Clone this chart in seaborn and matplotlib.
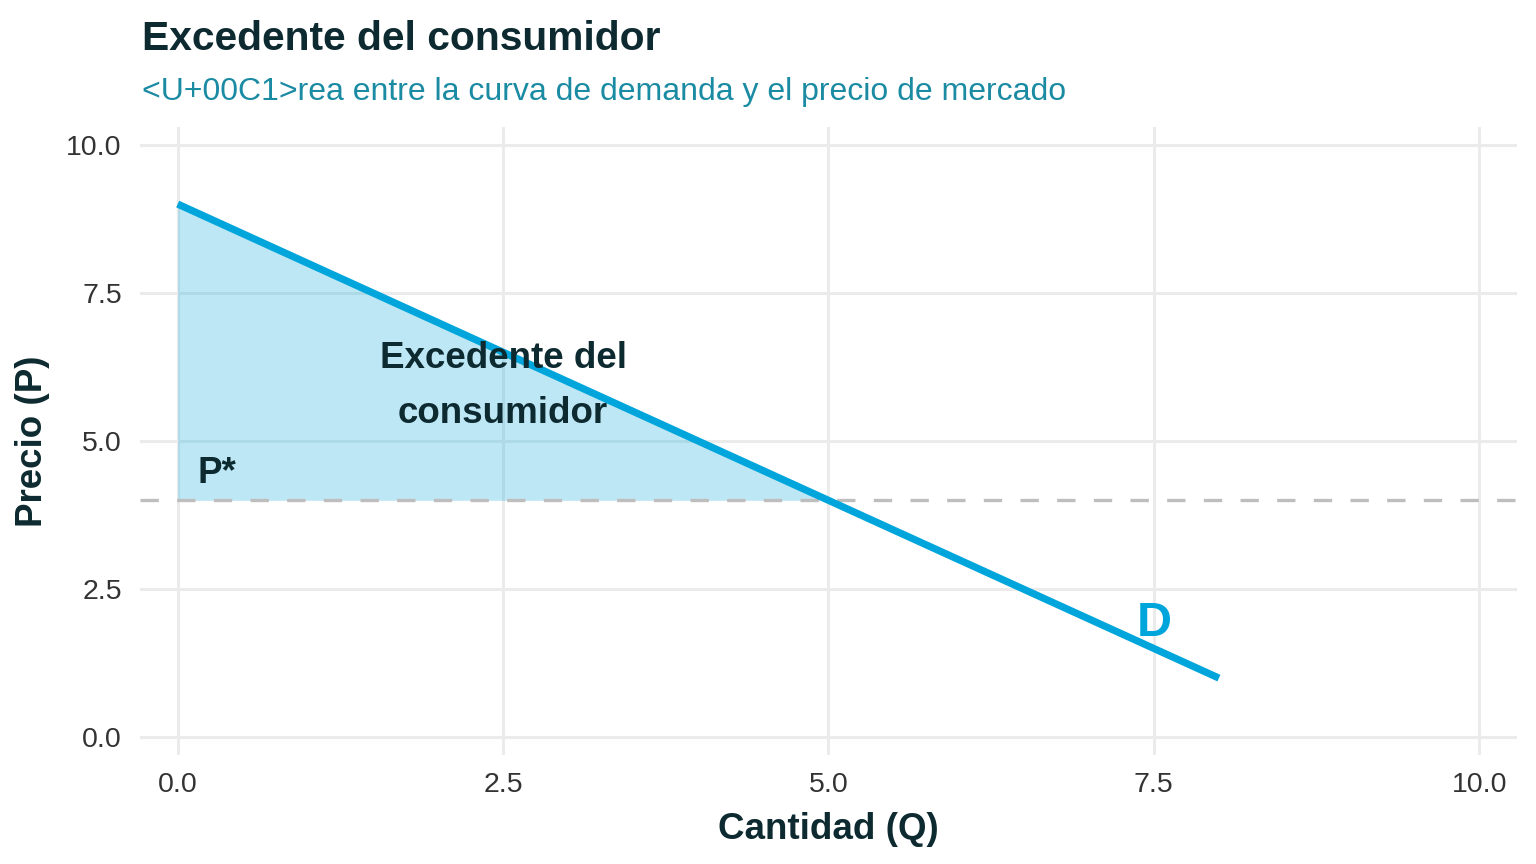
import pandas as pd
import seaborn as sns
import matplotlib.pyplot as plt

# Demand curve P = 9 - Q, drawn from Q=0 to Q=8
cantidad = [0, 8]
precio = [9, 1]
# market equilibrium
p_star = 4
q_star = 5
# surplus area: demand from Q=0 to Q*
q_area = [0, 5]
p_area = [9, 4]

ticks = [0.0, 2.5, 5.0, 7.5, 10.0]
tick_labels = ['0.0', '2.5', '5.0', '7.5', '10.0']

azul = '#00A6DB'
oscuro = '#0D2A30'
teal = '#1A8BA3'

sns.set_theme(style='whitegrid')
plt.rcParams['font.family'] = ['Liberation Sans', 'DejaVu Sans']

df = pd.DataFrame({'Q': cantidad, 'P': precio})

fig = plt.figure(figsize=(15.36, 8.64), dpi=100)
ax = fig.add_axes([0.0911, 0.126, 0.8965, 0.727])

# Shaded consumer surplus
ax.fill_between(q_area, p_area, p_star, color=azul, alpha=0.26, linewidth=0, zorder=2)
# market price line
ax.axhline(p_star, color='#BEBEBE', lw=2.4, dashes=(5.5, 5.5), zorder=3)
sns.lineplot(data=df, x='Q', y='P', color=azul, lw=5.2, ax=ax, zorder=4,
             solid_capstyle='butt')

ax.text(2.5, 5.93, 'Excedente del\nconsumidor', ha='center', va='center',
        fontsize=26.5, fontweight='bold', color=oscuro, linespacing=1.75, zorder=5)
ax.text(0.15, 4.45, 'P*', ha='left', va='center', fontsize=26.5,
        fontweight='bold', color=oscuro, zorder=5)
ax.text(7.5, 1.92, 'D', ha='center', va='center', fontsize=35,
        fontweight='bold', color=azul, zorder=5)

ax.set_xlim(-0.29, 10.29)
ax.set_ylim(-0.3, 10.3)
ax.set_xticks(ticks)
ax.set_xticklabels(tick_labels)
ax.set_yticks(ticks)
ax.set_yticklabels(tick_labels)
ax.tick_params(axis='both', length=0, labelsize=20.5, labelcolor='#333333')
ax.tick_params(axis='x', pad=12)
ax.tick_params(axis='y', pad=13)
ax.grid(True, color='#EBEBEB', lw=2.2)
ax.set_axisbelow(True)
for s in ax.spines.values():
    s.set_visible(False)
ax.set_facecolor('white')

ax.set_xlabel('Cantidad (Q)', fontsize=26.5, fontweight='bold', color=oscuro, labelpad=10)
ax.set_ylabel('Precio (P)', fontsize=26.5, fontweight='bold', color=oscuro, labelpad=12)

fig.text(0.0925, 1 - 50 / 864, 'Excedente del consumidor', ha='left', va='baseline',
         fontsize=29.3, fontweight='bold', color=oscuro)
fig.text(0.0925, 1 - 100 / 864, '<U+00C1>rea entre la curva de demanda y el precio de mercado',
         ha='left', va='baseline', fontsize=23, color=teal)

fig.savefig('out.png', dpi=100)
